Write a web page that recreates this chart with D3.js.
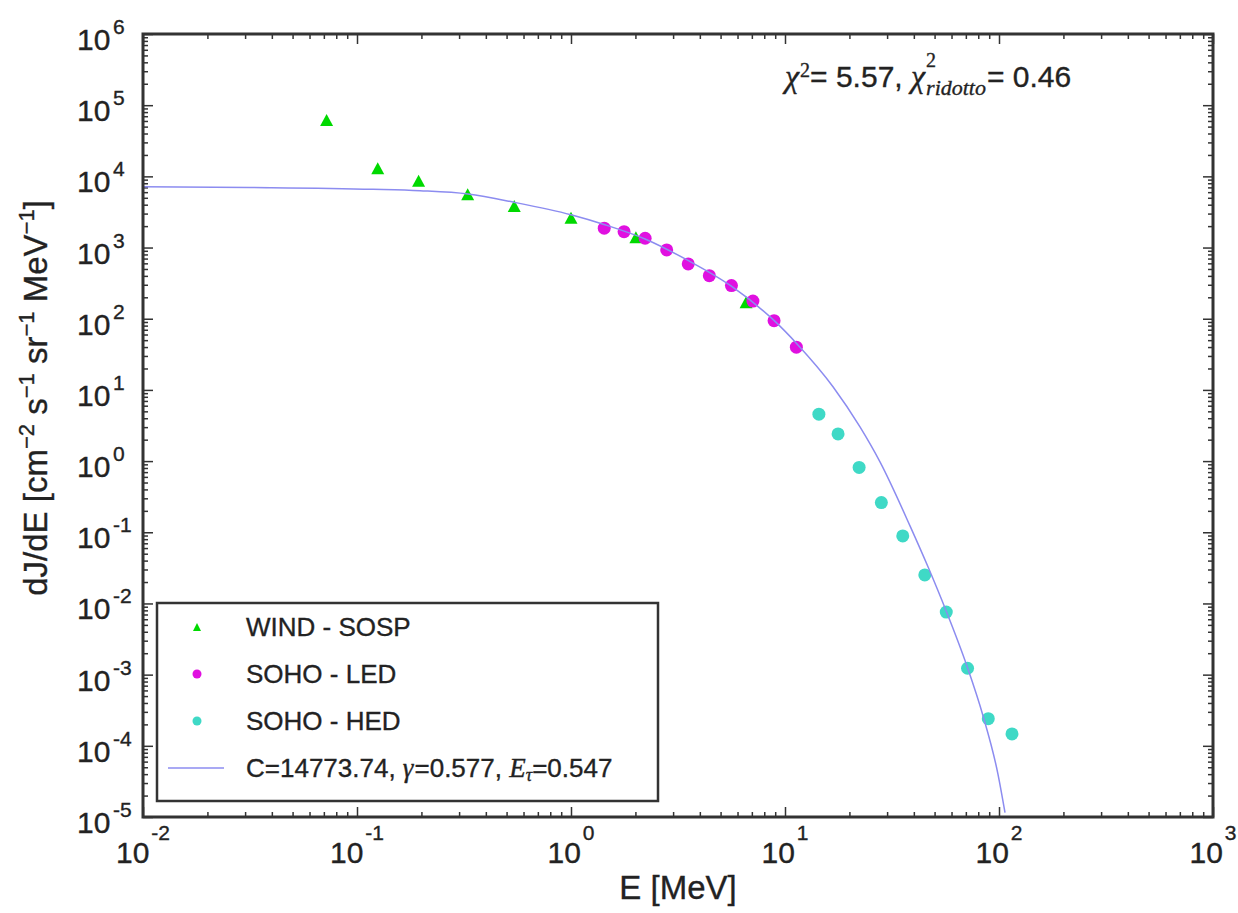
<!DOCTYPE html>
<html><head><meta charset="utf-8">
<script src="https://cdn.jsdelivr.net/npm/d3@7"></script>
<style>body{margin:0;background:#fff} text{stroke:#262626;stroke-width:0.35px}</style>
</head><body>
<svg id="chart" width="1238" height="913" style="background:#fff"></svg>
<script>
// ---------- data ----------
const windE = [0.0721, 0.125, 0.194, 0.329, 0.543, 1.0, 2.01, 6.58];
const windF = [62000, 13000, 8710, 5610, 3840, 2630, 1395, 171];
const ledE  = [1.43, 1.77, 2.22, 2.80, 3.53, 4.43, 5.62, 7.08, 8.89, 11.3];
const ledF  = [1870, 1670, 1350, 925, 589, 403, 292, 177, 94, 39.9];
const hedE  = [14.4, 17.7, 22.2, 28.2, 35.5, 45.0, 56.7, 71.3, 89.1, 115];
const hedF  = [4.56, 2.41, 0.816, 0.261, 0.0890, 0.0252, 0.00757, 0.00123, 2.41e-4, 1.47e-4];
const fitE  = [0.01, 0.0316, 0.1188, 0.197, 0.330, 0.547, 1.0, 1.427, 2.218, 3.522, 5.594, 8.884, 11.38, 16.76, 22.41, 27.79, 38.38, 46.58, 56.53, 70.88, 84.18, 98.93, 106.7];
const fitF  = [7170, 6990, 6590, 6280, 5642, 4299, 2888, 2110, 1321, 659, 289, 94.7, 44.3, 11.1, 3.02, 0.974, 0.123, 0.0327, 0.00795, 0.00131, 2.64e-4, 3.98e-5, 1.15e-5];
const xTickExp = [-2, -1, 0, 1, 2, 3];
const yTickExp = [-5, -4, -3, -2, -1, 0, 1, 2, 3, 4, 5, 6];
const minorMult = [2, 3, 4, 5, 6, 7, 8, 9];
const legendLabels = ["WIND - SOSP", "SOHO - LED", "SOHO - HED"];

// ---------- setup ----------
const svg = d3.select("#chart");
const M = {left: 143, right: 1213, top: 34, bottom: 817};
const x = d3.scaleLog().domain([1e-2, 1e3]).range([M.left, M.right]);
const y = d3.scaleLog().domain([1e-5, 1e6]).range([M.bottom, M.top]);
const SANS = "'Liberation Sans', Arial, Helvetica, sans-serif";
const SERIF = "'Liberation Serif', 'DejaVu Serif', serif";
const AX = "#333";
const C_GREEN = "#00d900", C_MAG = "#e010e0", C_CYAN = "#3fd9c6", C_FIT = "#8c8cf0";

svg.append("defs").append("clipPath").attr("id","plotclip")
  .append("rect").attr("x",M.left).attr("y",M.top)
  .attr("width",M.right-M.left).attr("height",M.bottom-M.top);

// ticks
const xMajor = xTickExp.map(e => Math.pow(10, e));
const yMajor = yTickExp.map(e => Math.pow(10, e));
const xMinor = [], yMinor = [];
xTickExp.slice(0,-1).forEach(e => minorMult.forEach(m => xMinor.push(m*Math.pow(10,e))));
yTickExp.slice(0,-1).forEach(e => minorMult.forEach(m => yMinor.push(m*Math.pow(10,e))));

function styleAxis(g){
  g.select(".domain").remove();
  g.selectAll(".tick line").attr("stroke", AX).attr("stroke-width", 1.5);
}
const axes = svg.append("g");
[[xMajor,10],[xMinor,5]].forEach(([vals,len])=>{
  axes.append("g").attr("transform",`translate(0,${M.bottom})`)
    .call(d3.axisBottom(x).tickValues(vals).tickSize(-len).tickFormat("")).call(styleAxis);
  axes.append("g").attr("transform",`translate(0,${M.top})`)
    .call(d3.axisTop(x).tickValues(vals).tickSize(-len).tickFormat("")).call(styleAxis);
});
[[yMajor,10],[yMinor,5]].forEach(([vals,len])=>{
  axes.append("g").attr("transform",`translate(${M.left},0)`)
    .call(d3.axisLeft(y).tickValues(vals).tickSize(-len).tickFormat("")).call(styleAxis);
  axes.append("g").attr("transform",`translate(${M.right},0)`)
    .call(d3.axisRight(y).tickValues(vals).tickSize(-len).tickFormat("")).call(styleAxis);
});

// tick labels
const xl = svg.append("g").attr("font-family", SANS).attr("fill", "#222");
xTickExp.forEach(e=>{
  const t = xl.append("text").attr("x", x(Math.pow(10,e))).attr("y", 863)
    .attr("text-anchor","middle").attr("font-size",30);
  t.append("tspan").text("10");
  t.append("tspan").attr("font-size",21).attr("dx",2).attr("dy",-23).text(e<0?"-"+(-e):String(e));
});
const yl = svg.append("g").attr("font-family", SANS).attr("fill", "#222");
yTickExp.forEach(e=>{
  const yy = y(Math.pow(10,e));
  yl.append("text").attr("x",77).attr("y",yy+16).attr("font-size",30).text("10");
  yl.append("text").attr("x",113).attr("y",yy).attr("font-size",21).text(e<0?"-"+(-e):String(e));
});

// axis titles
svg.append("text").attr("x",(M.left+M.right)/2).attr("y",899).attr("text-anchor","middle")
  .attr("font-family",SANS).attr("font-size",33).attr("fill","#222").text("E [MeV]");
const yt = svg.append("text").attr("transform","translate(47,398) rotate(-90)")
  .attr("text-anchor","middle").attr("font-family",SANS).attr("font-size",33).attr("fill","#222");
[["dJ/dE [cm",""],["−2","sup"],[" s",""],["−1","sup"],[" sr",""],["−1","sup"],[" MeV",""],["−1","sup"],["]",""]]
 .forEach(([s,k],i,arr)=>{
   const ts = yt.append("tspan").text(s);
   if(k==="sup"){ ts.attr("font-size",22).attr("dy",-13); }
   else if(i>0 && arr[i-1][1]==="sup"){ ts.attr("dy",13); }
 });

// ---------- plot content ----------
const plot = svg.append("g").attr("clip-path","url(#plotclip)");
const tri = (w,h)=>`M0,${-h/2}L${w/2},${h/2}L${-w/2},${h/2}Z`;
plot.selectAll("path.wind").data(windE).join("path").attr("class","wind")
  .attr("d", tri(13,12)).attr("fill", C_GREEN)
  .attr("transform",(d,i)=>`translate(${x(d)},${y(windF[i])})`);
plot.selectAll("circle.led").data(ledE).join("circle").attr("class","led")
  .attr("cx",d=>x(d)).attr("cy",(d,i)=>y(ledF[i])).attr("r",6.5).attr("fill",C_MAG);
plot.selectAll("circle.hed").data(hedE).join("circle").attr("class","hed")
  .attr("cx",d=>x(d)).attr("cy",(d,i)=>y(hedF[i])).attr("r",6.5).attr("fill",C_CYAN);
const line = d3.line().x(d=>x(d[0])).y(d=>y(d[1])).curve(d3.curveMonotoneX);
plot.append("path").datum(fitE.map((e,i)=>[e,fitF[i]])).attr("d",line)
  .attr("fill","none").attr("stroke",C_FIT).attr("stroke-width",1.5);

// frame
svg.append("rect").attr("x",M.left).attr("y",M.top).attr("width",M.right-M.left)
  .attr("height",M.bottom-M.top).attr("fill","none").attr("stroke",AX).attr("stroke-width",3);

// ---------- legend ----------
const lg = svg.append("g");
lg.append("rect").attr("x",157).attr("y",603).attr("width",501).attr("height",198)
  .attr("fill","#fff").attr("stroke",AX).attr("stroke-width",2.5);
const rowY = [627, 674, 721, 768];
lg.append("path").attr("d",tri(8,8)).attr("fill",C_GREEN).attr("transform",`translate(197,${rowY[0]})`);
lg.append("circle").attr("cx",197).attr("cy",rowY[1]).attr("r",4.5).attr("fill",C_MAG);
lg.append("circle").attr("cx",197).attr("cy",rowY[2]).attr("r",4.5).attr("fill",C_CYAN);
lg.append("line").attr("x1",168).attr("x2",224).attr("y1",rowY[3]).attr("y2",rowY[3])
  .attr("stroke",C_FIT).attr("stroke-width",1.5);
legendLabels.forEach((s,i)=>{
  lg.append("text").attr("x",246).attr("y",rowY[i]+9).attr("font-family",SANS)
    .attr("font-size",26).attr("fill","#222").text(s);
});

// sequential run of text pieces
function run(g, x0, base, parts){
  let cx = x0;
  parts.forEach(p=>{
    if(p.stack){
      let w = 0;
      p.stack.forEach(q=>{
        const t = g.append("text").attr("x",cx).attr("y",base+(q.dy||0))
          .attr("font-family",q.f).attr("font-size",q.s).attr("fill","#222")
          .attr("font-style",q.i?"italic":"normal").text(q.t);
        w = Math.max(w, t.node().getComputedTextLength());
      });
      cx += w + (p.gap||0);
    } else {
      const t = g.append("text").attr("x",cx).attr("y",base+(p.dy||0))
        .attr("font-family",p.f).attr("font-size",p.s).attr("fill","#222")
        .attr("font-style",p.i?"italic":"normal").style("white-space","pre").text(p.t);
      cx += t.node().getComputedTextLength() + (p.gap||0);
    }
  });
}
run(lg, 246, rowY[3]+9, [
  {t:"C=14773.74, ", f:SANS, s:26},
  {t:"γ", f:SERIF, s:27, i:true, gap:1},
  {t:"=0.577, ", f:SANS, s:26},
  {t:"E", f:SERIF, s:27, i:true},
  {t:"τ", f:SERIF, s:18, i:true, dy:4},
  {t:"=0.547", f:SANS, s:26}
]);

// chi-square annotation
const an = svg.append("g");
run(an, 785, 87, [
  {t:"χ", f:SERIF, s:32, i:true, gap:1},
  {t:"2", f:SERIF, s:20, dy:-10},
  {t:"= 5.57, ", f:SANS, s:30},
  {t:"χ", f:SERIF, s:32, i:true, gap:1},
  {stack:[{t:"2", f:SERIF, s:20, dy:-20},{t:"ridotto", f:SERIF, s:22, i:true, dy:8}], gap:1},
  {t:"= 0.46", f:SANS, s:30}
]);
</script>
</body></html>
